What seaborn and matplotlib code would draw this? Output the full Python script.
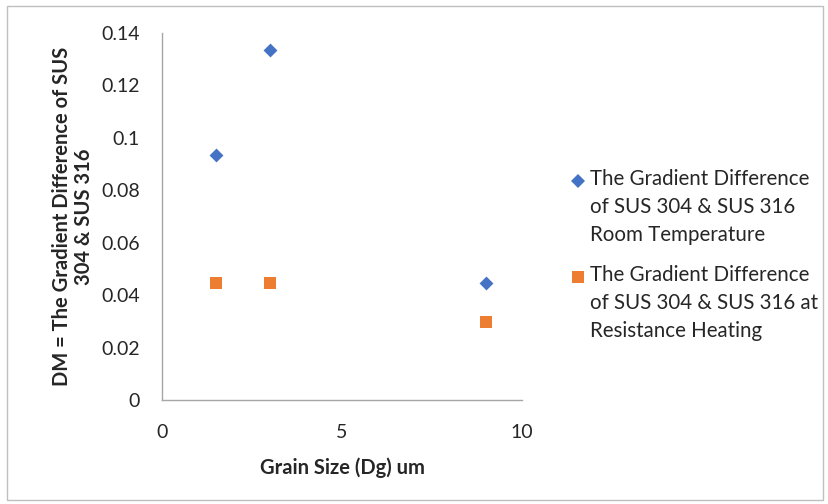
import matplotlib
matplotlib.use("Agg")
import matplotlib.pyplot as plt
import seaborn as sns
import pandas as pd
import numpy as np
from matplotlib.patches import Rectangle
from matplotlib.lines import Line2D
from matplotlib.legend_handler import HandlerLine2D

grain_size = [1.5, 3, 9]
room_temp = [0.0935, 0.1335, 0.0445]
resistance_heating = [0.0445, 0.0445, 0.0297]
series_names = ["The Gradient Difference\nof SUS 304 & SUS 316\nRoom Temperature",
                "The Gradient Difference\nof SUS 304 & SUS 316 at\nResistance Heating"]
x_ticks = [0, 5, 10]
y_ticks = [0, 0.02, 0.04, 0.06, 0.08, 0.1, 0.12, 0.14]
y_tick_labels = ["0", "0.02", "0.04", "0.06", "0.08", "0.1", "0.12", "0.14"]
colors = ["#4472C4", "#ED7D31"]

df_room = pd.DataFrame({"x": grain_size, "y": room_temp})
df_heat = pd.DataFrame({"x": grain_size, "y": resistance_heating})

sns.set_theme(style="white")
plt.rcParams['font.family'] = ['Lato', 'DejaVu Sans']

fig = plt.figure(figsize=(8.29, 5.04), dpi=100)
ax = fig.add_axes([162/829, 1 - 400/504, (522-162)/829, (400-33)/504])

sns.scatterplot(data=df_room, x="x", y="y", color=colors[0], marker="D",
                s=50, linewidth=0, ax=ax)
sns.scatterplot(data=df_heat, x="x", y="y", color=colors[1], marker="s",
                s=80, linewidth=0, ax=ax)

ax.set_xlim(0, 10)
ax.set_ylim(0, 0.14)
ax.set_xticks(x_ticks)
ax.set_xticklabels([str(v) for v in x_ticks])
ax.set_yticks(y_ticks)
ax.set_yticklabels(y_tick_labels)
ax.tick_params(axis="both", length=0, labelsize=14, colors="#262626")
ax.tick_params(axis="x", pad=17)
ax.tick_params(axis="y", pad=16)
for side in ["top", "right"]:
    ax.spines[side].set_visible(False)
for side in ["left", "bottom"]:
    ax.spines[side].set_color("#A6A6A6")
    ax.spines[side].set_linewidth(1.0)

ax.set_xlabel("Grain Size (Dg) um", fontsize=14.5, fontweight="bold", color="#262626", labelpad=12)
ax.set_ylabel("DM = The Gradient Difference of SUS\n304 & SUS 316", fontsize=14.5,
              fontweight="bold", color="#262626", labelpad=5, linespacing=1.1)

SHIFT = 19.5  # points: move legend marker up to first text line


class TopHandler(HandlerLine2D):
    def create_artists(self, legend, orig_handle, xdescent, ydescent, width,
                       height, fontsize, trans):
        artists = super().create_artists(legend, orig_handle, xdescent, ydescent,
                                         width, height, fontsize, trans)
        for a in artists:
            if isinstance(a, Line2D):
                a.set_ydata(np.asarray(a.get_ydata()) + SHIFT)
        return artists


handles = [Line2D([], [], linestyle="none", marker="D", markersize=7.5,
                  markerfacecolor=colors[0], markeredgewidth=0),
           Line2D([], [], linestyle="none", marker="s", markersize=8.5,
                  markerfacecolor=colors[1], markeredgewidth=0)]
leg = ax.legend(handles, series_names, loc="center left", bbox_to_anchor=(1.104, 0.394),
                frameon=False, fontsize=14.8, handletextpad=0.2, labelspacing=0.98,
                handlelength=0.8, borderpad=0,
                handler_map={Line2D: TopHandler()})
for t in leg.get_texts():
    t.set_color("#262626")
    t.set_linespacing(1.5)

fig.patches.append(Rectangle((7/829, 1 - 500/504), (823-7)/829, (500-6)/504,
                             transform=fig.transFigure, fill=False,
                             edgecolor="#BFBFBF", linewidth=1.0))

fig.savefig("out.png", dpi=100)
